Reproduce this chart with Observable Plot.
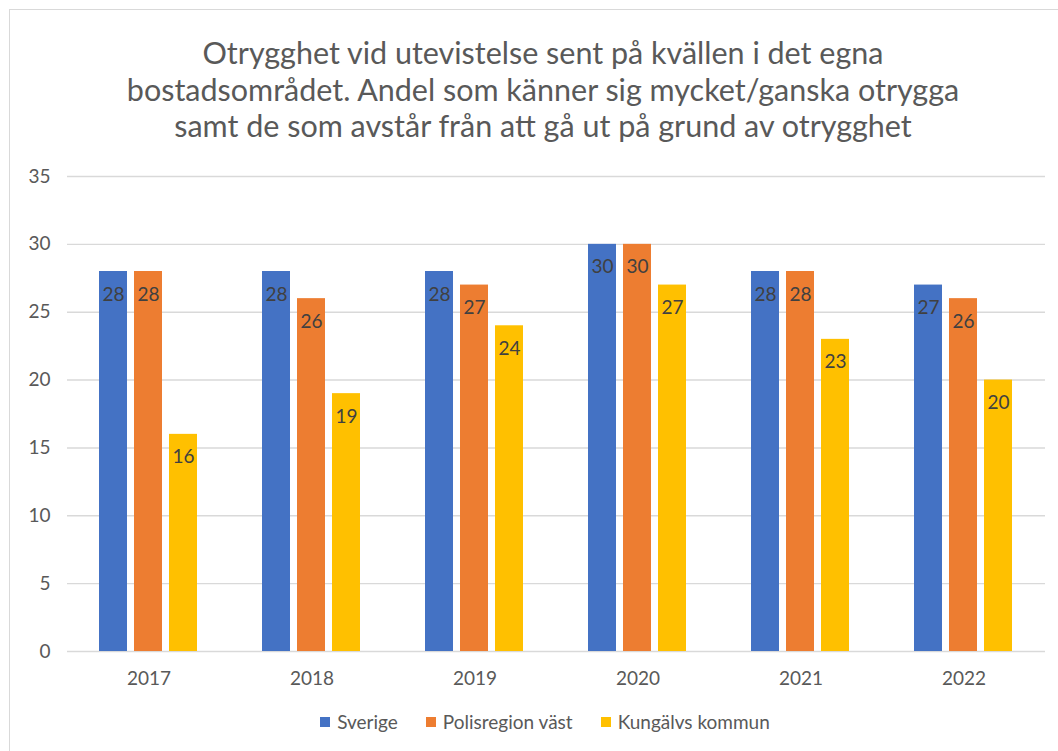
<!DOCTYPE html>
<html>
<head>
<meta charset="utf-8">
<script src="https://cdn.jsdelivr.net/npm/d3@7"></script>
<script src="https://cdn.jsdelivr.net/npm/@observablehq/plot@0.6"></script>
<style>
  html, body { margin: 0; padding: 0; background: #fff; }
  body { width: 1058px; height: 751px; overflow: hidden; position: relative; font-family: Lato, "Open Sans", sans-serif; color: #595959; }
  #frame { position: absolute; left: 9px; top: 9px; width: 1060px; height: 760px; border: 1.5px solid #d9d9d9; box-sizing: border-box; }
  #title { position: absolute; left: 0; width: 1086px; top: 34px; text-align: center; font-size: 30.5px; line-height: 36.5px; color: #595959; }
  #chart { position: absolute; left: 0; top: 150px; }
  #legend { position: absolute; top: 710px; left: 0; width: 1090px; display: flex; justify-content: center; gap: 28px; font-size: 19px; color: #595959; }
  .item { display: flex; align-items: center; gap: 7px; }
  .sw { width: 10px; height: 10px; display: inline-block; }
</style>
</head>
<body>
<div id="frame"></div>
<div id="title">Otrygghet vid utevistelse sent på kvällen i det egna<br>bostadsområdet. Andel som känner sig mycket/ganska otrygga<br>samt de som avstår från att gå ut på grund av otrygghet</div>
<div id="chart"></div>
<div id="legend"></div>
<script>
const years = ["2017", "2018", "2019", "2020", "2021", "2022"];
const seriesNames = ["Sverige", "Polisregion väst", "Kungälvs kommun"];
const sverige = [28, 28, 28, 30, 28, 27];
const polisregion = [28, 26, 27, 30, 28, 26];
const kungalv = [16, 19, 24, 27, 23, 20];
const colors = ["#4472c4", "#ed7d31", "#ffc000"];
const yTicks = [0, 5, 10, 15, 20, 25, 30, 35];

const seriesValues = [sverige, polisregion, kungalv];
const data = [];
years.forEach((yr, i) => {
  seriesNames.forEach((s, j) => {
    data.push({year: yr, series: s, value: seriesValues[j][i]});
  });
});

const chart = Plot.plot({
  width: 1058,
  height: 560,
  marginTop: 26,
  marginBottom: 59,
  marginLeft: 66,
  marginRight: 13,
  style: {fontFamily: "Lato, 'Open Sans', sans-serif", color: "#595959", background: "transparent"},
  fx: {domain: years, paddingInner: 0, paddingOuter: 0, label: null},
  x: {domain: seriesNames, paddingInner: 0.194, paddingOuter: 0.864, axis: null},
  y: {domain: [0, 35], axis: null},
  color: {domain: seriesNames, range: colors},
  marks: [
    Plot.ruleY(yTicks, {stroke: "#d9d9d9", strokeWidth: 1.4}),
    Plot.barY(data, {fx: "year", x: "series", y: "value", fill: "series"}),
    Plot.text(data, {fx: "year", x: "series", y: "value", text: d => String(d.value), dy: 23, fill: "#404040", fontSize: 19}),
    Plot.axisY({ticks: yTicks, tickSize: 0, tickPadding: 17, fontSize: 19, label: null}),
    Plot.axisFx({anchor: "bottom", tickSize: 0, tickPadding: 20, fontSize: 19, label: null})
  ]
});
document.getElementById("chart").appendChild(chart);

const legend = document.getElementById("legend");
seriesNames.forEach((s, i) => {
  const it = document.createElement("div");
  it.className = "item";
  const sw = document.createElement("span");
  sw.className = "sw";
  sw.style.background = colors[i];
  const t = document.createElement("span");
  t.textContent = s;
  it.appendChild(sw);
  it.appendChild(t);
  legend.appendChild(it);
});
</script>
</body>
</html>
